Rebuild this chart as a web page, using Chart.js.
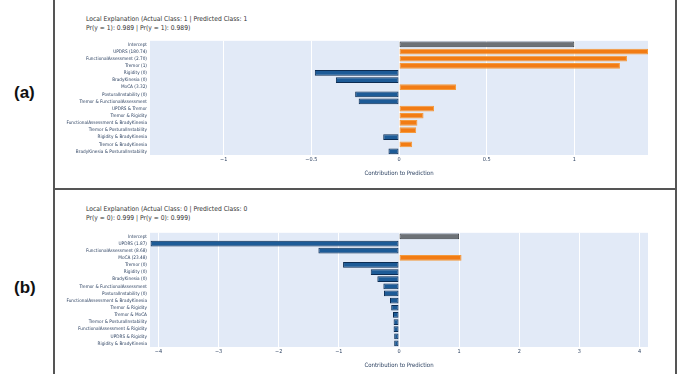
<!DOCTYPE html>
<html>
<head>
<meta charset="utf-8">
<script src="https://cdn.jsdelivr.net/npm/chart.js@4.4.1/dist/chart.umd.min.js"></script>
<style>
  html, body { margin:0; padding:0; }
  body { width:680px; height:374px; background:#fff; position:relative; overflow:hidden;
         font-family:"Liberation Sans Narrow","DejaVu Sans Condensed","Liberation Sans",sans-serif; }
  .line { position:absolute; background:#555; }
  .panel-label { position:absolute; font-family:"Liberation Sans",Arial,sans-serif; font-weight:bold; font-size:17px; color:#111; }
  .title { position:absolute; left:86px; font-size:6.7px; line-height:8.5px; color:#333; white-space:nowrap; }
  .chart { position:absolute; left:60px; width:600px; }
</style>
</head>
<body>
<div class="line" style="left:53px;top:0;width:2px;height:374px;"></div>
<div class="line" style="left:675px;top:0;width:2px;height:374px;"></div>
<div class="line" style="left:53px;top:188px;width:624px;height:2px;"></div>

<div class="panel-label" style="left:14px;top:83px;">(a)</div>
<div class="panel-label" style="left:14px;top:278px;">(b)</div>

<div class="title" style="top:15px;">Local Explanation (Actual Class: 1 | Predicted Class: 1<br>Pr(y = 1): 0.989 | Pr(y = 1): 0.989)</div>
<div class="title" style="top:205px;">Local Explanation (Actual Class: 0 | Predicted Class: 0<br>Pr(y = 0): 0.999 | Pr(y = 0): 0.999)</div>

<div class="chart" style="top:35px;height:142px;"><canvas id="ca"></canvas></div>
<div class="chart" style="top:227px;height:142px;"><canvas id="cb"></canvas></div>

<script>
// ---------- Data: panel (a) ----------
const labelsA = [
  "Intercept", "UPDRS (180.74)", "FunctionalAssessment (2.70)", "Tremor (1)",
  "Rigidity (0)", "BradyKinesia (0)", "MoCA (3.32)", "PosturalInstability (0)",
  "Tremor & FunctionalAssessment", "UPDRS & Tremor", "Tremor & Rigidity",
  "FunctionalAssessment & BradyKinesia", "Tremor & PosturalInstability",
  "Rigidity & BradyKinesia", "Tremor & BradyKinesia", "BradyKinesia & PosturalInstability"
];
const valuesA = [1.00, 1.42, 1.30, 1.26, -0.48, -0.36, 0.325, -0.25, -0.23, 0.20, 0.14, 0.105, 0.098, -0.09, 0.075, -0.06];
const rangeA = [-1.42, 1.42];
const tickValuesA = [-1, -0.5, 0, 0.5, 1];
const tickLabelsA = ["\u22121", "\u22120.5", "0", "0.5", "1"];

// ---------- Data: panel (b) ----------
const labelsB = [
  "Intercept", "UPDRS (1.87)", "FunctionalAssessment (8.68)", "MoCA (23.48)",
  "Tremor (0)", "Rigidity (0)", "BradyKinesia (0)", "Tremor & FunctionalAssessment",
  "PosturalInstability (0)", "FunctionalAssessment & BradyKinesia", "Tremor & Rigidity",
  "Tremor & MoCA", "Tremor & PosturalInstability", "FunctionalAssessment & Rigidity",
  "UPDRS & Rigidity", "Rigidity & BradyKinesia"
];
const valuesB = [1.00, -4.13, -1.34, 1.04, -0.93, -0.47, -0.36, -0.26, -0.25, -0.15, -0.13, -0.10, -0.09, -0.09, -0.08, -0.08];
const rangeB = [-4.14, 4.14];
const tickValuesB = [-4, -3, -2, -1, 0, 1, 2, 3, 4];
const tickLabelsB = ["\u22124", "\u22123", "\u22122", "\u22121", "0", "1", "2", "3", "4"];

const axisTitle = "Contribution to Prediction";

// ---------- Styling ----------
const FONT = '"Liberation Sans Narrow","DejaVu Sans Condensed","Liberation Sans",sans-serif';
const C = {
  interceptFill: "#6c7176", interceptBorder: "#3c4044",
  posFill: "#f27c14", posBorder: "#f59a3c",
  negFill: "#1d5b97", negBorder: "#0c2c52",
  bg: "#e2eaf7", text: "#2a3f5f"
};

const bgPlugin = {
  id: "plotBg",
  beforeDraw(chart) {
    const { ctx, chartArea: a } = chart;
    ctx.save();
    ctx.fillStyle = C.bg;
    ctx.fillRect(a.left, a.top, a.right - a.left, a.bottom - a.top);
    ctx.restore();
  }
};

function makeChart(id, labels, values, range, tickValues, tickLabels) {
  const fills = values.map((v, i) => i === 0 ? C.interceptFill : (v >= 0 ? C.posFill : C.negFill));
  const borders = values.map((v, i) => i === 0 ? C.interceptBorder : (v >= 0 ? C.posBorder : C.negBorder));
  return new Chart(document.getElementById(id), {
    type: "bar",
    data: {
      labels: labels,
      datasets: [{
        data: values,
        backgroundColor: fills,
        borderColor: borders,
        borderWidth: 1,
        borderSkipped: false,
        categoryPercentage: 1,
        barPercentage: 0.8
      }]
    },
    options: {
      indexAxis: "y",
      responsive: true,
      maintainAspectRatio: false,
      animation: false,
      layout: { padding: { left: 0, right: 12, top: 0, bottom: 0 } },
      plugins: { legend: { display: false }, tooltip: { enabled: false } },
      scales: {
        x: {
          min: range[0], max: range[1],
          afterBuildTicks(scale) { scale.ticks = tickValues.map(v => ({ value: v })); },
          afterFit(scale) { scale.height = 22; },
          ticks: {
            autoSkip: false, maxRotation: 0, padding: 1,
            font: { family: FONT, size: 5.5 }, color: C.text,
            callback: (v, i) => tickLabels[i]
          },
          grid: { color: "#ffffff", lineWidth: 1, drawTicks: false },
          border: { display: false },
          title: { display: true, text: axisTitle, font: { family: FONT, size: 6 }, color: C.text, padding: { top: 4, bottom: 0 } }
        },
        y: {
          afterFit(scale) { scale.width = 90; },
          ticks: {
            autoSkip: false, padding: 3,
            font: { family: FONT, size: 4.7 }, color: C.text
          },
          grid: { display: false, drawTicks: false },
          border: { display: false }
        }
      }
    },
    plugins: [bgPlugin]
  });
}

makeChart("ca", labelsA, valuesA, rangeA, tickValuesA, tickLabelsA);
makeChart("cb", labelsB, valuesB, rangeB, tickValuesB, tickLabelsB);
</script>
</body>
</html>
